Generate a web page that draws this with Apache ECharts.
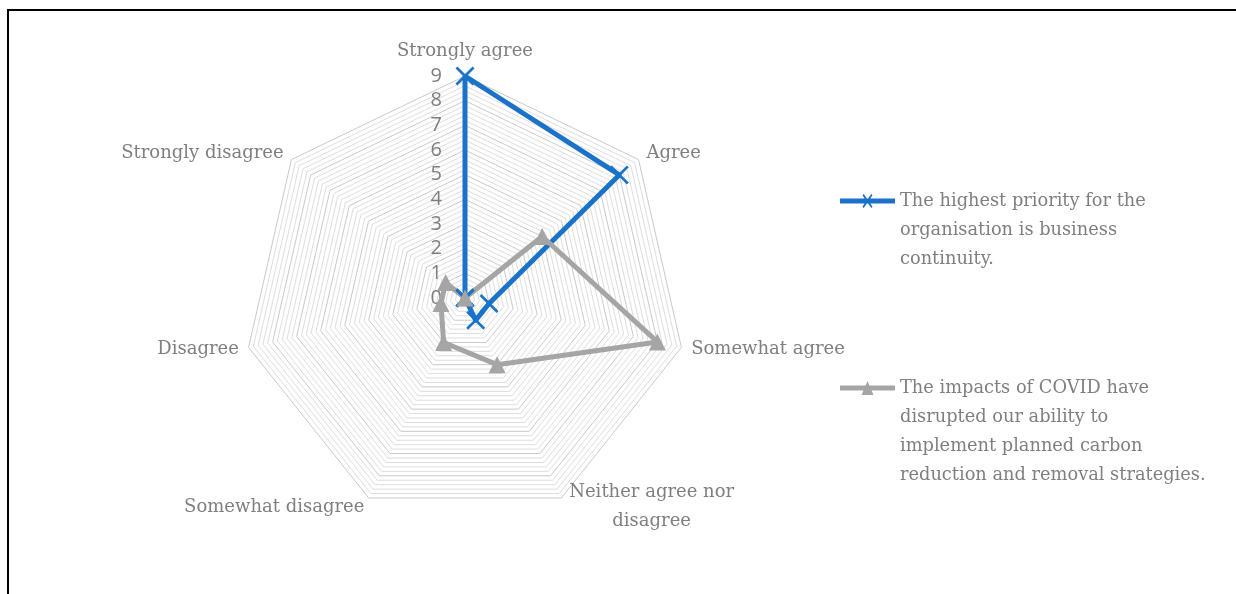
<!DOCTYPE html>
<html>
<head>
<meta charset="utf-8">
<script src="https://cdn.jsdelivr.net/npm/echarts@6/dist/echarts.min.js"></script>
<style>
  html, body { margin: 0; padding: 0; background: #fff; overflow: hidden; }
  #frame { position: absolute; left: 7px; top: 9px; width: 1400px; height: 800px;
           border-top: 2px solid #000; border-left: 2px solid #000; }
  #chart { position: absolute; left: 0; top: 0; width: 1236px; height: 594px; }
</style>
</head>
<body>
<div id="frame"></div>
<div id="chart"></div>
<script>
// answer scale, clockwise from the top
const categories = ['Strongly agree', 'Agree', 'Somewhat agree', 'Neither agree nor disagree',
  'Somewhat disagree', 'Disagree', 'Strongly disagree'];
const businessValues = [9, 8, 1, 1, 0, 0, 0];
const covidValues = [0, 4, 8, 3, 2, 1, 1];
const seriesNames = [
  'The highest priority for the organisation is business continuity.',
  'The impacts of COVID have disrupted our ability to implement planned carbon reduction and removal strategies.',
];
const legendLines = [
  ['The highest priority for the', 'organisation is business', 'continuity.'],
  ['The impacts of COVID have', 'disrupted our ability to', 'implement planned carbon', 'reduction and removal strategies.'],
];
const tickMax = 9;

const BLUE = '#1a73c8';
const GRAY = '#a5a5a5';
const SERIF = '"DejaVu Serif", serif';
const LINE_H = 29;

// echarts radar runs counter-clockwise, so flip the order after the first axis
const order = [0, 6, 5, 4, 3, 2, 1];
const pick = (arr) => order.map((i) => arr[i]);

const xMark = 'path://M0,1L1,0L5,4L9,0L10,1L6,5L10,9L9,10L5,6L1,10L0,9L4,5Z';
const legendX = 'path://M0,4.5H55V9.5H0Z M22.5,1.2L23.7,0L27.5,5.3L31.3,0L32.5,1.2L28.7,7L32.5,12.8L31.3,14L27.5,8.7L23.7,14L22.5,12.8L26.3,7Z';
const legendTri = 'path://M0,4.5H55V9.5H0Z M21.5,14L27.5,0L33.5,14Z';

const chart = echarts.init(document.getElementById('chart'), null, { renderer: 'canvas' });

// blank lines on top keep the first text line level with the icon
const legendText = (i) => {
  const lines = legendLines[i];
  return new Array(lines.length - 1).fill('').concat(lines).join('\n');
};

const legendBase = (i, icon, iconY) => ({
  orient: 'vertical',
  left: 840,
  top: iconY - (legendLines[i].length - 0.5) * LINE_H,
  padding: 0,
  itemWidth: 55,
  itemHeight: 14,
  selectedMode: false,
  icon,
  formatter: (name) => legendText(seriesNames.indexOf(name)),
  data: [seriesNames[i]],
  textStyle: { fontFamily: SERIF, fontSize: 17.8, color: '#7f7f7f', lineHeight: LINE_H },
});

chart.setOption({
  animation: false,
  backgroundColor: 'transparent',
  legend: [
    legendBase(0, legendX, 201),
    legendBase(1, legendTri, 388),
  ],
  radar: {
    center: [465, 298],
    radius: 222,
    splitNumber: 45,
    axisNameGap: 10,
    indicator: pick(categories).map((name, k) => ({
      name,
      min: 0,
      max: tickMax,
      axisLabel: k === 0 ? { show: true } : { show: false },
    })),
    axisName: {
      color: '#7f7f7f',
      fontFamily: SERIF,
      fontSize: 18,
      lineHeight: LINE_H,
      formatter: (name) => name === 'Neither agree nor disagree'
        ? '{c|Neither agree nor}\n{c|disagree}' : name,
      rich: { c: { width: 172, align: 'center', fontFamily: SERIF, fontSize: 18, color: '#7f7f7f', lineHeight: LINE_H } },
    },
    axisLabel: {
      show: false,
      color: '#7f7f7f',
      fontFamily: '"Open Sans", sans-serif',
      fontSize: 20,
      margin: 23,
      formatter: (v) => Math.abs(v - Math.round(v)) < 1e-6 ? String(Math.round(v)) : '',
    },
    axisLine: { show: false },
    axisTick: { show: false },
    splitArea: { show: false },
    splitLine: {
      lineStyle: { color: ['#c9c9c9', '#dddddd', '#dddddd', '#dddddd', '#dddddd'], width: 1 },
    },
  },
  series: [{
    type: 'radar',
    data: [
      {
        name: seriesNames[0],
        value: pick(businessValues),
        symbol: xMark,
        symbolSize: 19,
        lineStyle: { color: BLUE, width: 5 },
        itemStyle: { color: BLUE },
      },
      {
        name: seriesNames[1],
        value: pick(covidValues),
        symbol: 'triangle',
        symbolSize: 17,
        lineStyle: { color: GRAY, width: 5 },
        itemStyle: { color: GRAY },
      },
    ],
  }],
});
</script>
</body>
</html>
